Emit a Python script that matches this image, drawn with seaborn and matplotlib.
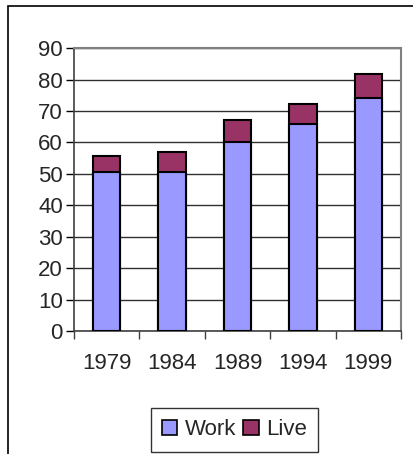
import matplotlib
matplotlib.use("Agg")
import matplotlib.pyplot as plt
from matplotlib.patches import Rectangle
import seaborn as sns
import pandas as pd

years = ["1979", "1984", "1989", "1994", "1999"]
work = [50.5, 50.5, 60, 66, 74]
live = [5.3, 6.5, 7.2, 6.3, 7.7]

df = pd.DataFrame({"Year": years, "Work": work, "Live": live})
df["Total"] = df["Work"] + df["Live"]

sns.set_style("white")
plt.rcParams["font.family"] = ["Liberation Sans", "DejaVu Sans"]

fig = plt.figure(figsize=(4.13, 4.54), dpi=100)
ax = fig.add_axes([0.179, 0.271, 0.792, 0.623])

# stacked: draw totals first (Live colour), then Work on top
sns.barplot(data=df, x="Year", y="Total", color="#993366", width=0.42,
            edgecolor="black", linewidth=1.5, saturation=1, ax=ax, zorder=3)
sns.barplot(data=df, x="Year", y="Work", color="#9999FF", width=0.42,
            edgecolor="black", linewidth=1.5, saturation=1, ax=ax, zorder=3)

ax.set_ylim(0, 90)
ax.set_xlim(-0.5, 4.5)
ax.set_yticks(range(0, 91, 10))
ax.set_xlabel("")
ax.set_ylabel("")
ax.yaxis.grid(True, color="#303030", linewidth=1)
ax.set_axisbelow(True)

ax.set_xticks([i - 0.5 for i in range(6)], minor=True)
ax.tick_params(axis="x", which="major", length=0, labelsize=16, pad=16)
ax.tick_params(axis="x", which="minor", length=6, width=1, color="#404040",
               direction="out", bottom=True)
ax.tick_params(axis="y", length=6, width=1, color="black", direction="out",
               left=True, labelsize=16, pad=2)

for side in ["top", "right"]:
    ax.spines[side].set_color("#808080")
    ax.spines[side].set_linewidth(1.5)
for side in ["left", "bottom"]:
    ax.spines[side].set_color("#404040")
    ax.spines[side].set_linewidth(1.2)

handles = [Rectangle((0, 0), 1, 1, facecolor="#9999FF", edgecolor="black", linewidth=1.2),
           Rectangle((0, 0), 1, 1, facecolor="#993366", edgecolor="black", linewidth=1.2)]
leg = fig.legend(handles, ["Work", "Live"], loc="center", bbox_to_anchor=(0.568, 0.053),
                 ncol=2, frameon=True, fancybox=False, fontsize=16,
                 handlelength=0.7, handleheight=0.7, handletextpad=0.35,
                 columnspacing=0.3, borderpad=0.5, borderaxespad=0, edgecolor="black")
leg.get_frame().set_linewidth(1)

# outer chart frame
fig.patches.append(Rectangle((8 / 413, -0.1), 1.2, 1.1 - 6 / 454, transform=fig.transFigure,
                             fill=False, edgecolor="black", linewidth=1.2))

fig.savefig("out.png", dpi=100)
